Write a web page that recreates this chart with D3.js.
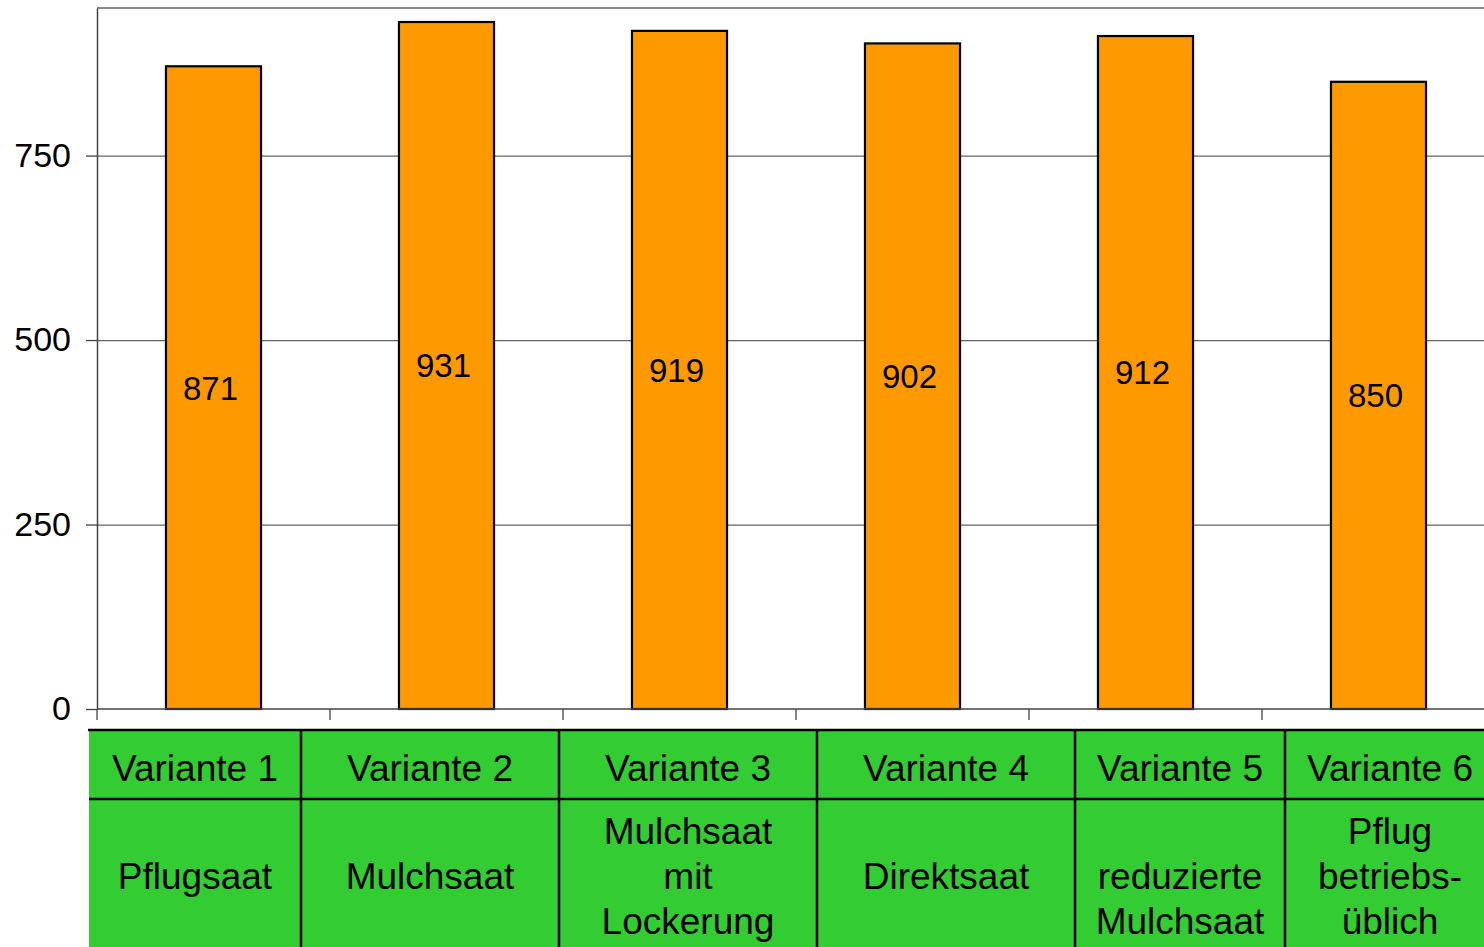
<!DOCTYPE html>
<html>
<head>
<meta charset="utf-8">
<script src="https://cdn.jsdelivr.net/npm/d3@7"></script>
<style>
  html, body { margin: 0; padding: 0; background: #fff; overflow: hidden; }
  svg { display: block; font-family: "Liberation Sans", Arial, sans-serif; }
</style>
</head>
<body>
<svg id="chart" width="1484" height="947"></svg>
<script>
// Data
const categories = ["Variante 1", "Variante 2", "Variante 3", "Variante 4", "Variante 5", "Variante 6"];
const values = [871, 931, 919, 902, 912, 850];
const methods = [
  ["Pflugsaat"],
  ["Mulchsaat"],
  ["Mulchsaat", "mit", "Lockerung"],
  ["Direktsaat"],
  ["reduzierte", "Mulchsaat"],
  ["Pflug", "betriebs-", "üblich"]
];
const yTicks = [0, 250, 500, 750];

// Layout
const plot = { left: 97, top: 8, bottom: 709, right: 1495 };
const table = { top: 730, mid: 799, bottom: 953 };
const columnEdges = [89, 301, 559, 817, 1075, 1285, 1495];

const svg = d3.select("#chart");

const x = d3.scaleBand()
  .domain(categories)
  .range([plot.left, plot.right])
  .paddingInner(0.592)
  .paddingOuter(0.296);

const y = d3.scaleLinear()
  .domain([0, 950])
  .range([plot.bottom, plot.top]);

// Gridlines
svg.append("g")
  .selectAll("line")
  .data(yTicks.filter(d => d > 0))
  .join("line")
  .attr("x1", plot.left).attr("x2", plot.right)
  .attr("y1", d => y(d) + 0.5).attr("y2", d => y(d) + 0.5)
  .attr("stroke", "#666").attr("stroke-width", 1.3);

// Top border of plot area
svg.append("line")
  .attr("x1", plot.left).attr("x2", plot.right)
  .attr("y1", plot.top).attr("y2", plot.top)
  .attr("stroke", "#8a8a8a").attr("stroke-width", 2);

// Y axis
const yAxis = svg.append("g")
  .attr("transform", `translate(${plot.left},0)`)
  .call(d3.axisLeft(y).tickValues(yTicks).tickSizeInner(11).tickSizeOuter(0)
    .tickPadding(15).tickFormat(d3.format("d")));
yAxis.select(".domain").attr("stroke", "#444").attr("stroke-width", 1.5);
yAxis.selectAll(".tick line").attr("stroke", "#444").attr("stroke-width", 1.3);
yAxis.selectAll(".tick text")
  .attr("font-size", 34)
  .attr("fill", "#000")
  .attr("font-family", "'Liberation Sans', Arial, sans-serif");

// Bars
svg.append("g")
  .selectAll("rect")
  .data(values)
  .join("rect")
  .attr("x", (d, i) => x(categories[i]))
  .attr("y", d => y(d))
  .attr("width", x.bandwidth())
  .attr("height", d => y(0) - y(d))
  .attr("fill", "#FF9900")
  .attr("stroke", "#000")
  .attr("stroke-width", 2.2);

// Value labels at bar mid-height
svg.append("g")
  .selectAll("text")
  .data(values)
  .join("text")
  .attr("x", (d, i) => x(categories[i]) + x.bandwidth() / 2 - 3)
  .attr("y", d => (y(d) + y(0)) / 2)
  .attr("dy", "0.36em")
  .attr("text-anchor", "middle")
  .attr("font-size", 33)
  .attr("fill", "#000")
  .text(d => d);

// X axis line with ticks at category boundaries
svg.append("line")
  .attr("x1", plot.left).attr("x2", plot.right)
  .attr("y1", plot.bottom).attr("y2", plot.bottom)
  .attr("stroke", "#444").attr("stroke-width", 1.5);
svg.append("g")
  .selectAll("line")
  .data(d3.range(categories.length))
  .join("line")
  .attr("x1", i => x(categories[i]) - x.step() * x.paddingOuter())
  .attr("x2", i => x(categories[i]) - x.step() * x.paddingOuter())
  .attr("y1", plot.bottom).attr("y2", plot.bottom + 11)
  .attr("stroke", "#444").attr("stroke-width", 1.3);

// Data table below the chart
const tbl = svg.append("g");
tbl.append("rect")
  .attr("x", columnEdges[0]).attr("y", table.top)
  .attr("width", columnEdges[columnEdges.length - 1] - columnEdges[0])
  .attr("height", table.bottom - table.top)
  .attr("fill", "#33CC33");

tbl.append("line")
  .attr("x1", columnEdges[0] - 1).attr("x2", columnEdges[columnEdges.length - 1])
  .attr("y1", table.top).attr("y2", table.top)
  .attr("stroke", "#000").attr("stroke-width", 2.5);
tbl.append("line")
  .attr("x1", columnEdges[0]).attr("x2", columnEdges[columnEdges.length - 1])
  .attr("y1", table.mid).attr("y2", table.mid)
  .attr("stroke", "#000").attr("stroke-width", 2.5);
tbl.selectAll("line.col")
  .data(columnEdges.slice(1, -1))
  .join("line")
  .attr("class", "col")
  .attr("x1", d => d).attr("x2", d => d)
  .attr("y1", table.top).attr("y2", table.bottom)
  .attr("stroke", "#000").attr("stroke-width", 2.5);

const cols = categories.map((c, i) => ({
  name: c,
  lines: methods[i],
  cx: (columnEdges[i] + columnEdges[i + 1]) / 2
}));

tbl.selectAll("text.head")
  .data(cols)
  .join("text")
  .attr("class", "head")
  .attr("x", d => d.cx)
  .attr("y", (table.top + table.mid) / 2 + 3)
  .attr("dy", "0.36em")
  .attr("text-anchor", "middle")
  .attr("font-size", 37)
  .attr("fill", "#000")
  .text(d => d.name);

// Body cells: first line sits at the row centre unless there are three lines
const lineH = 45;
const bodyMid = 876;
cols.forEach(d => {
  const n = d.lines.length;
  const start = bodyMid - Math.floor((n - 1) / 2) * lineH;
  const t = tbl.append("text")
    .attr("text-anchor", "middle")
    .attr("font-size", 37)
    .attr("fill", "#000");
  d.lines.forEach((ln, k) => {
    t.append("tspan")
      .attr("x", d.cx)
      .attr("y", start + k * lineH)
      .attr("dy", "0.36em")
      .text(ln);
  });
});
</script>
</body>
</html>
